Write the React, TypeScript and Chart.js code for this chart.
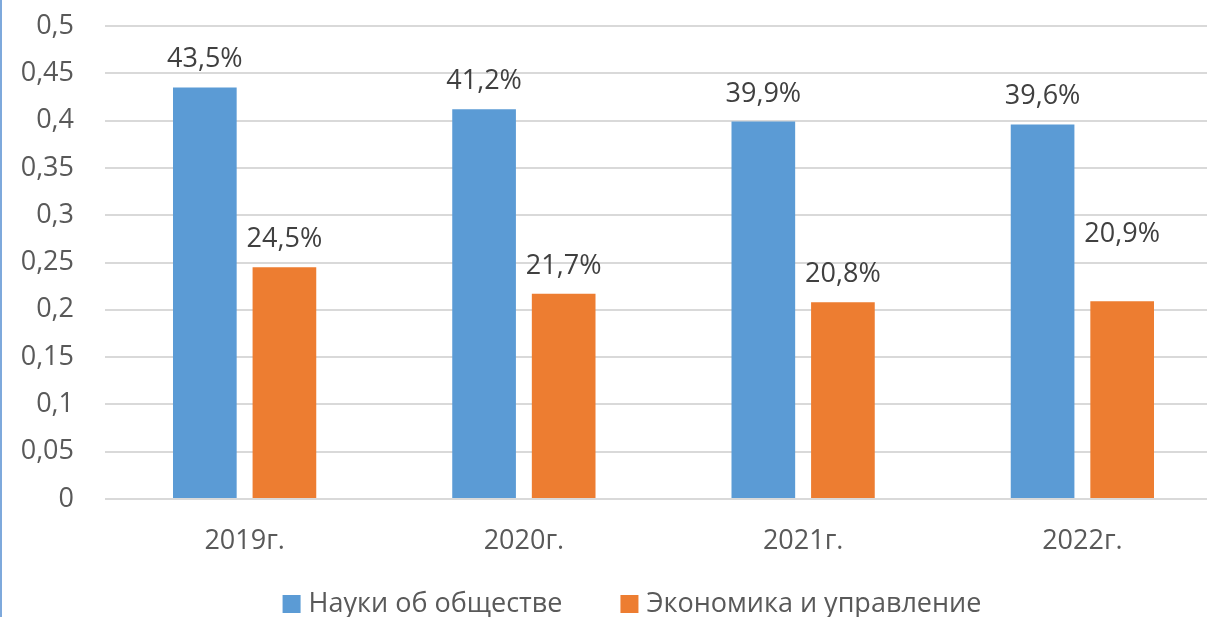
import { useEffect, useRef } from "react";
import { Chart, registerables } from "chart.js";

Chart.register(...registerables);

const categories = ["2019г.", "2020г.", "2021г.", "2022г."];
const seriesNames = ["Науки об обществе", "Экономика и управление"];
const socialSciences = [0.435, 0.412, 0.399, 0.396];
const economics = [0.245, 0.217, 0.208, 0.209];
const seriesColors = ["#5B9BD5", "#ED7D31"];
const yMax = 0.5;
const yStep = 0.05;
// extra vertical offset (px) for individual data labels that were moved in the original
const labelNudges = [
  [0, 0, 0, 0],
  [0, 0, 0, -39],
];

const FONT = '"Open Sans", "Noto Sans", sans-serif';
const FONT_SIZE = 27;
const CANVAS_W = 1264;
const CANVAS_H = 617;

const fmtComma = (v: number) => String(Math.round(v * 100) / 100).replace(".", ",");
const fmtPct = (v: number) => (v * 100).toFixed(1).replace(".", ",") + "%";

const dataLabelPlugin = {
  id: "dataLabels",
  afterDatasetsDraw(chart: any) {
    const ctx = chart.ctx;
    ctx.save();
    ctx.font = `${FONT_SIZE}px ${FONT}`;
    ctx.fillStyle = "#404040";
    ctx.textAlign = "center";
    ctx.textBaseline = "alphabetic";
    chart.data.datasets.forEach((ds: any, di: number) => {
      const meta = chart.getDatasetMeta(di);
      meta.data.forEach((bar: any, i: number) => {
        const v = ds.data[i];
        ctx.fillText(fmtPct(v), bar.x, bar.y - 20 + (labelNudges[di]?.[i] ?? 0));
      });
    });
    ctx.restore();
  },
};

const legendPlugin = {
  id: "bottomLegend",
  afterDraw(chart: any) {
    const ctx = chart.ctx;
    ctx.save();
    ctx.font = `${FONT_SIZE}px ${FONT}`;
    ctx.textBaseline = "alphabetic";
    ctx.textAlign = "left";
    const box = 18;
    const textGap = 8;
    const itemGap = 58;
    const items = chart.data.datasets.map((ds: any) => ({
      text: ds.label,
      color: ds.backgroundColor,
      w: ctx.measureText(ds.label).width,
    }));
    const total =
      items.reduce((s: number, it: any) => s + box + textGap + it.w, 0) +
      itemGap * (items.length - 1);
    let x = chart.width / 2 - total / 2;
    const boxTop = 595;
    const baseline = 612;
    items.forEach((it: any) => {
      ctx.fillStyle = it.color;
      ctx.fillRect(x, boxTop, box, box);
      ctx.fillStyle = "#595959";
      ctx.fillText(it.text, x + box + textGap, baseline);
      x += box + textGap + it.w + itemGap;
    });
    ctx.restore();
  },
};

export default function App() {
  const ref = useRef<HTMLCanvasElement>(null);

  useEffect(() => {
    if (!ref.current) return;
    const chart = new Chart(ref.current, {
      type: "bar",
      data: {
        labels: categories,
        datasets: [
          {
            label: seriesNames[0],
            data: socialSciences,
            backgroundColor: seriesColors[0],
            categoryPercentage: 0.57,
            barPercentage: 0.8,
          },
          {
            label: seriesNames[1],
            data: economics,
            backgroundColor: seriesColors[1],
            categoryPercentage: 0.57,
            barPercentage: 0.8,
          },
        ],
      },
      options: {
        responsive: false,
        maintainAspectRatio: false,
        animation: false,
        layout: { padding: { top: 26, left: 0, right: CANVAS_W - 1222, bottom: 60 } },
        plugins: {
          tooltip: { enabled: false },
          legend: { display: false },
        },
        scales: {
          x: {
            grid: { display: false, drawTicks: false },
            border: { display: false },
            ticks: {
              color: "#595959",
              font: { family: FONT, size: FONT_SIZE },
              padding: 26,
              maxRotation: 0,
            },
            afterFit: (s: any) => {
              s.height = 58;
              s.paddingLeft = 0;
              s.paddingRight = 0;
              s.paddingTop = 0;
              s.paddingBottom = 0;
            },
          },
          y: {
            min: 0,
            max: yMax,
            grid: { color: "#D9D9D9", lineWidth: 2, drawTicks: false },
            border: { display: false },
            ticks: {
              stepSize: yStep,
              color: "#595959",
              font: { family: FONT, size: FONT_SIZE },
              padding: 31,
              callback: (v: any) => fmtComma(Number(v)),
            },
            afterFit: (s: any) => {
              s.width = 105;
              s.paddingTop = 0;
              s.paddingBottom = 0;
              s.paddingLeft = 0;
              s.paddingRight = 0;
            },
          },
        },
      },
      plugins: [dataLabelPlugin, legendPlugin],
    });
    return () => chart.destroy();
  }, []);

  return (
    <div
      style={{
        position: "fixed",
        left: 0,
        top: 0,
        width: 1207,
        height: 617,
        overflow: "hidden",
        background: "#fff",
      }}
    >
      <canvas
        ref={ref}
        width={CANVAS_W}
        height={CANVAS_H}
        style={{ display: "block", width: CANVAS_W, height: CANVAS_H }}
      />
      <div
        style={{
          position: "absolute",
          left: 0,
          top: 0,
          width: 2,
          height: 617,
          background: "#7EA9DC",
        }}
      />
    </div>
  );
}
